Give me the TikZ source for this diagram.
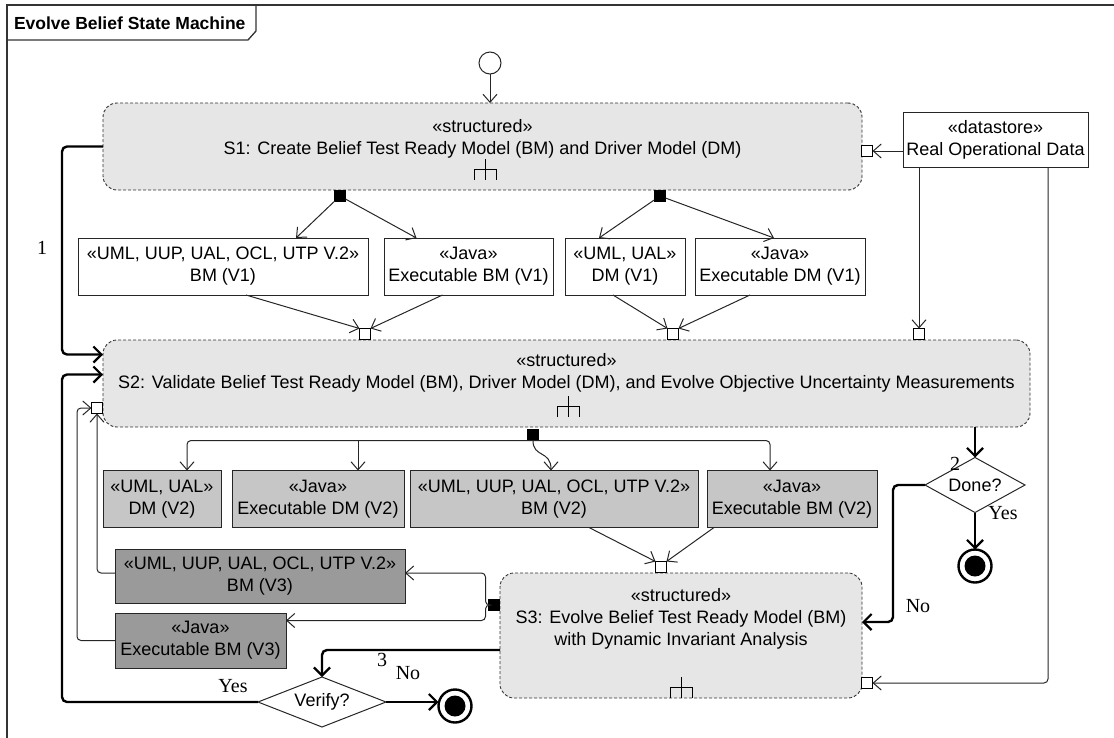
\documentclass[tikz,border=0pt]{standalone}
\usepackage{fontspec}
\setmainfont{Liberation Sans}
\newfontfamily\lblfont{Liberation Serif}
\usetikzlibrary{arrows.meta,calc,shapes.geometric}

\definecolor{actfill}{HTML}{E6E6E6}
\definecolor{vtwo}{HTML}{C6C6C6}
\definecolor{vthree}{HTML}{9A9A9A}

\begin{document}
\begin{tikzpicture}[x=1pt,y=-1pt,
  font=\fontsize{18}{22}\selectfont,
  every node/.style={inner sep=0pt, outer sep=0pt},
  act/.style={draw=black!80, fill=actfill, rounded corners=14pt,
    dash pattern=on 3pt off 2pt, line width=0.9pt},
  obj/.style={draw=black!85, line width=1pt, align=center, fill=white},
  objtwo/.style={obj, fill=vtwo},
  objthree/.style={obj, fill=vthree},
  pinw/.style={draw=black, fill=white, minimum size=11pt, line width=0.9pt},
  pinb/.style={draw=black, fill=black, minimum size=11pt},
  flow/.style={draw=black!85, line width=1pt,
    -{Straight Barb[length=8pt,width=14pt,line width=1pt]}},
  plain/.style={draw=black!85, line width=1pt},
  ctrl/.style={draw=black, line width=2.4pt, rounded corners=5pt,
    -{Straight Barb[length=8pt,width=16pt,line width=2.2pt]}},
  decision/.style={diamond, draw=black!85, line width=1pt, aspect=2.5,
    minimum width=#1, align=center},
  finalstate/.style={circle, draw=black, line width=2.4pt, minimum size=33pt},
  lbl/.style={font=\lblfont\fontsize{20}{22}\selectfont},
  forkglyph/.pic={\draw[line width=1pt] (0,-11) -- (0,10)
      (-11,10) -- (-11,-1) -- (11,-1) -- (11,10);}
]
\useasboundingbox (0,0) rectangle (1114,737);

% frame and title tab
\draw[line width=1.3pt, black!80] (7,745) -- (7,5) -- (1120,5);
\draw[line width=1.3pt, black!80] (7,40) -- (248,40) -- (256,31) -- (256,5);
\node[anchor=west, font=\bfseries\fontsize{17.5}{20}\selectfont] (title) at (14,23) {Evolve Belief State Machine};

% initial state
\node[circle, draw=black!85, line width=1pt, minimum size=22pt, fill=white] (init) at (490,63) {};

% structured activities
\node[act, minimum width=759pt, minimum height=87pt] (S1) at (482.5,146.5) {};
\node[align=center] (S1t) at (482.5,138.5) {«structured»\\S1: Create Belief Test Ready Model (BM) and Driver Model (DM)};
\pic at (485,170) {forkglyph};

\node[act, minimum width=927pt, minimum height=87pt] (S2) at (566.5,383.5) {};
\node[align=center] (S2t) at (566.5,373) {«structured»\\S2: Validate Belief Test Ready Model (BM), Driver Model (DM), and Evolve Objective Uncertainty Measurements};
\pic at (568,407) {forkglyph};

\node[act, minimum width=362pt, minimum height=125pt] (S3) at (681,635.5) {};
\node[align=center] (S3t) at (681,619) {«structured»\\S3: Evolve Belief Test Ready Model (BM)\\with Dynamic Invariant Analysis};
\pic at (681,688) {forkglyph};

% datastore
\node[obj, minimum width=185pt, minimum height=55pt] (DS) at (995.5,139.5) {«datastore»\\Real Operational Data};

% version 1 artefacts
\node[obj, minimum width=290pt, minimum height=57pt] (BM1) at (223,266.5) {«UML, UUP, UAL, OCL, UTP V.2»\\BM (V1)};
\node[obj, minimum width=169pt, minimum height=57pt] (EBM1) at (468.5,266.5) {«Java»\\Executable BM (V1)};
\node[obj, minimum width=120pt, minimum height=57pt] (DM1) at (625,266.5) {«UML, UAL»\\DM (V1)};
\node[obj, minimum width=170pt, minimum height=57pt] (EDM1) at (780,266.5) {«Java»\\Executable DM (V1)};

% version 2 artefacts
\node[objtwo, minimum width=118pt, minimum height=57pt] (DM2) at (162,499) {«UML, UAL»\\DM (V2)};
\node[objtwo, minimum width=172pt, minimum height=57pt] (EDM2) at (318,499) {«Java»\\Executable DM (V2)};
\node[objtwo, minimum width=288pt, minimum height=57pt] (BM2) at (554,499) {«UML, UUP, UAL, OCL, UTP V.2»\\BM (V2)};
\node[objtwo, minimum width=170pt, minimum height=57pt] (EBM2) at (792,499) {«Java»\\Executable BM (V2)};

% version 3 artefacts
\node[objthree, minimum width=290pt, minimum height=54pt] (BM3) at (260,576) {«UML, UUP, UAL, OCL, UTP V.2»\\BM (V3)};
\node[objthree, minimum width=171pt, minimum height=55pt] (EBM3) at (200.5,640.5) {«Java»\\Executable BM (V3)};

% pins
\node[pinw] (p1in) at (867,151) {};
\node[pinb] (p1a) at (340,196) {};
\node[pinb] (p1b) at (660,196) {};
\node[pinw] (p2a) at (365,334) {};
\node[pinw] (p2b) at (673,334) {};
\node[pinw] (p2c) at (919,334) {};
\node[pinw] (p2l) at (97,408) {};
\node[pinb] (p2out) at (533,435) {};
\node[pinw] (p3in) at (661,567) {};
\node[pinb] (p3out) at (494,605) {};
\node[pinw] (p3r) at (867,683) {};

% decisions and final states
\node[decision=128pt, minimum height=50pt] (verify) at (322,702) {Verify?};
\node[decision=100pt, minimum height=55pt, aspect=2] (done) at (975,485) {Done?};
\node[finalstate] (fin1) at (455,706) {};
\fill (fin1.center) circle (10.5pt);
\node[finalstate] (fin2) at (975,566) {};
\fill (fin2.center) circle (10.5pt);

% object flows
\draw[flow] (init) -- (init |- S1.north);
\draw[flow] (DS.west |- p1in) -- (p1in);
\draw[flow] (p1a) -- ([xshift=73pt]BM1.north);
\draw[flow] (p1a) -- ([xshift=-52pt]EBM1.north);
\draw[flow] (p1b) -- ([xshift=-26pt]DM1.north);
\draw[flow] (p1b) -- ([xshift=-6pt]EDM1.north);
\draw[flow] ([xshift=23pt]BM1.south) -- (p2a.north west);
\draw[flow] ([xshift=-26pt]EBM1.south) -- (p2a.north east);
\draw[flow] ([xshift=-12pt]DM1.south) -- (p2b.north west);
\draw[flow] ([xshift=-30pt]EDM1.south) -- (p2b.north east);
\draw[flow] (p2c |- DS.south) -- (p2c);
\draw[flow, rounded corners=4pt] ([xshift=52.5pt]DS.south) |- (p3r);

\draw[flow, rounded corners=4pt] (p2out.south) -| ([xshift=25pt]DM2.north);
\draw[flow] ([xshift=40pt]EDM2.north |- p2out.south) -- ([xshift=40pt]EDM2.north);
\draw[flow, rounded corners=4pt] (p2out.south) -| ([xshift=-22pt]EBM2.north);
\draw[flow] (p2out.south) .. controls (533,458) and (551,450) .. ([xshift=-3pt]BM2.north);

\draw[flow] ([xshift=35pt]BM2.south) -- (p3in.north west);
\draw[flow] ([xshift=-78pt]EBM2.south) -- (p3in.north east);

\draw[flow, rounded corners=4pt] (p3out.west) -- ++(-3,0) |- ([yshift=3pt]BM3.east);
\draw[flow, rounded corners=4pt] (p3out.west) -- ++(-3,0) |- ([yshift=20pt]EBM3.east);
\draw[flow, rounded corners=4pt] ([yshift=3pt]BM3.west) -| (p2l.south);
\draw[flow, rounded corners=4pt] (EBM3.west) -- ++(-38,0) |- (p2l.west);

% control flows
\draw[ctrl] (S1.west) -- ++(-41,0) |- ([yshift=29pt]S2.west);
\draw[ctrl] (verify.west) -| ([xshift=-41pt]S2.west) |- ([yshift=9pt]S2.west);
\draw[ctrl] ([yshift=-14.5pt]S3.west) -| (verify.north);
\draw[ctrl] (verify.east) -- (verify.east -| fin1.west);
\draw[ctrl] (done.north |- S2.south) -- (done.north);
\draw[ctrl] (done.south) -- (fin2.north);
\draw[ctrl] (done.west) -- ++(-32,0) |- ([yshift=13.5pt]S3.east);

% guards and step numbers
\node[lbl] (n1) at (42,248) {1};
\node[lbl] (n2) at (955,464) {2};
\node[lbl] (n3) at (382,660) {3};
\node[lbl] (yes2) at (1003,513) {Yes};
\node[lbl] (no2) at (918,606) {No};
\node[lbl] (no3) at (408,673) {No};
\node[lbl] (yes3) at (233,686) {Yes};
\end{tikzpicture}
\end{document}
